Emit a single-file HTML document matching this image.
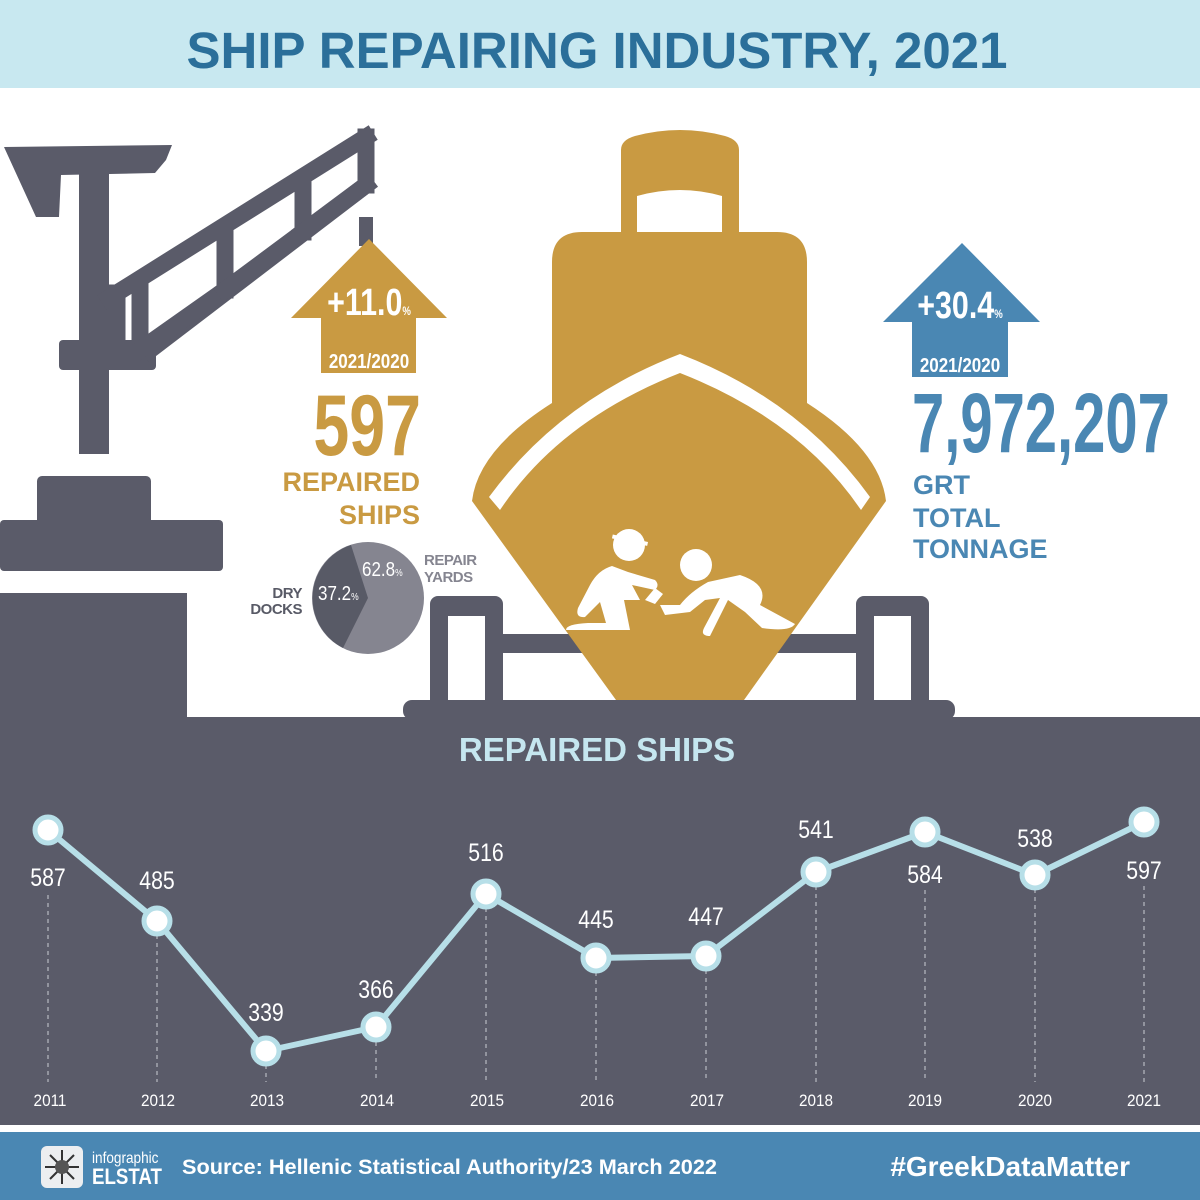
<!DOCTYPE html>
<html><head><meta charset="utf-8"><style>
html,body{margin:0;padding:0;background:#fff}
svg{display:block}
text{font-family:"Liberation Sans",sans-serif}
</style></head><body>
<svg width="1200" height="1200" viewBox="0 0 1200 1200" xmlns="http://www.w3.org/2000/svg">
<rect width="1200" height="1200" fill="#fff"/>
<rect x="0" y="0" width="1200" height="88" fill="#c8e8f0"/>
<text x="597" y="68" text-anchor="middle" font-size="51" font-weight="bold" fill="#2b6f9a">SHIP REPAIRING INDUSTRY, 2021</text>

<g fill="#5a5b69">
<polygon points="4,147 172,145 166,160 155,173 61,175 59,217 36,217"/>
<rect x="79" y="173" width="30" height="281"/>
<rect x="59" y="340" width="97" height="30" rx="4"/>
<rect x="37" y="476" width="114" height="50" rx="5"/>
<rect x="0" y="520" width="223" height="51" rx="4"/>
<rect x="0" y="593" width="187" height="130"/>
<rect x="359" y="217" width="14" height="29"/>
</g>
<g stroke="#5a5b69" stroke-width="17" fill="none" stroke-linecap="square">
<line x1="109" y1="298" x2="366" y2="137"/>
<line x1="150" y1="350" x2="366" y2="185"/>
<line x1="366" y1="137" x2="366" y2="185"/>
<line x1="117" y1="293" x2="117" y2="350"/>
<line x1="225" y1="238" x2="225" y2="290"/>
<line x1="303" y1="182" x2="303" y2="232"/>
<line x1="140" y1="290" x2="140" y2="350"/>
<line x1="140" y1="350" x2="225" y2="290"/>
<line x1="225" y1="290" x2="303" y2="232"/>
<line x1="303" y1="232" x2="366" y2="185"/>
</g>

<polygon points="369,239 447,318 416,318 416,373 321,373 321,318 291,318" fill="#c99a42"/>
<text transform="translate(369,315) scale(0.8,1)" text-anchor="middle" font-size="38" font-weight="bold" fill="#fff">+11.0<tspan font-size="12">%</tspan></text>
<text transform="translate(369,368) scale(0.85,1)" text-anchor="middle" font-size="20" font-weight="bold" fill="#fff">2021/2020</text>
<text transform="translate(421,455) scale(0.75,1)" text-anchor="end" font-size="86" font-weight="bold" fill="#c99a42">597</text>
<text x="420" y="491" text-anchor="end" font-size="27" font-weight="bold" fill="#c99a42">REPAIRED</text>
<text x="420" y="524" text-anchor="end" font-size="27" font-weight="bold" fill="#c99a42">SHIPS</text>

<circle cx="368" cy="598" r="56" fill="#858590"/>
<path d="M368,598 L351,545 A56,56 0 0,0 343,648 Z" fill="#585a66"/>
<text transform="translate(362,576) scale(0.85,1)" font-size="20" fill="#fff">62.8<tspan font-size="10">%</tspan></text>
<text transform="translate(318,600) scale(0.85,1)" font-size="20" fill="#fff">37.2<tspan font-size="10">%</tspan></text>
<text x="302" y="598" text-anchor="end" font-size="15" font-weight="bold" fill="#585a66" letter-spacing="-0.5">DRY</text>
<text x="302" y="614" text-anchor="end" font-size="15" font-weight="bold" fill="#585a66" letter-spacing="-0.5">DOCKS</text>
<text x="424" y="565" font-size="15" font-weight="bold" fill="#858590" letter-spacing="-0.5">REPAIR</text>
<text x="424" y="582" font-size="15" font-weight="bold" fill="#858590" letter-spacing="-0.5">YARDS</text>

<g fill="#5a5b69">
<rect x="430" y="596" width="73" height="115" rx="8"/>
<rect x="856" y="596" width="73" height="115" rx="8"/>
<rect x="500" y="634" width="360" height="19"/>
<rect x="403" y="700" width="552" height="20" rx="9"/>
</g>
<rect x="448" y="616" width="37" height="84" fill="#fff"/>
<rect x="874" y="616" width="37" height="84" fill="#fff"/>

<g fill="#c99a42">
<path d="M621,232 L621,150 Q621,140 635,136 Q680,124 725,136 Q739,140 739,150 L739,232 Z"/>
<path d="M552,403 L552,262 Q552,232 582,232 L777,232 Q807,232 807,262 L807,403 Q880,450 886,501 L744,700 L616,700 L472,501 Q478,450 552,403 Z"/>
</g>
<path d="M637,232 L637,196 Q680,184 722,196 L722,232 Z" fill="#fff"/>
<path d="M680,354 Q560,400 489,497 L500,510 Q560,420 680,373 Q800,420 861,510 L870,497 Q800,400 680,354 Z" fill="#fff"/>

<g fill="#fff">
<circle cx="629" cy="545" r="16"/>
<rect x="612" y="538" width="36" height="4" transform="rotate(12 629 540)"/>
<path d="M612,566 Q598,570 590,585 L578,608 Q575,618 585,617 L600,602 L606,623 L588,623 Q566,624 566,630 L630,630 L624,600 L640,600 L632,585 L655,590 Q660,585 655,580 L628,572 Z"/>
<circle cx="696" cy="565" r="16"/>
<path d="M708,582 Q690,592 680,605 L660,605 L665,615 L690,612 L705,600 L720,598 L704,628 Q700,636 710,636 L728,600 L745,612 L762,628 Q790,632 795,624 L760,605 Q770,585 740,575 Z"/>
<path d="M645,600 l10,-12 l8,6 l-8,10 z"/>
</g>

<polygon points="962,243 1040,322 1008,322 1008,377 912,377 912,322 883,322" fill="#4a87b3"/>
<text transform="translate(960,318) scale(0.8,1)" text-anchor="middle" font-size="38" font-weight="bold" fill="#fff">+30.4<tspan font-size="12">%</tspan></text>
<text transform="translate(960,372) scale(0.85,1)" text-anchor="middle" font-size="20" font-weight="bold" fill="#fff">2021/2020</text>
<text transform="translate(912,452) scale(0.69,1)" font-size="84" font-weight="bold" fill="#4a87b3">7,972,207</text>
<text x="913" y="494" font-size="27" font-weight="bold" fill="#4a87b3">GRT</text>
<text x="913" y="527" font-size="27" font-weight="bold" fill="#4a87b3">TOTAL</text>
<text x="913" y="558" font-size="27" font-weight="bold" fill="#4a87b3">TONNAGE</text>

<rect x="0" y="717" width="1200" height="408" fill="#5a5b69"/>
<text x="597" y="761" text-anchor="middle" font-size="33" font-weight="bold" fill="#c5e6ef">REPAIRED SHIPS</text>

<g stroke="#c9ccd4" stroke-width="1" stroke-dasharray="4,4">
<line x1="48" y1="895" x2="48" y2="1082"/>
<line x1="157" y1="935" x2="157" y2="1082"/>
<line x1="266" y1="1065" x2="266" y2="1082"/>
<line x1="376" y1="1042" x2="376" y2="1082"/>
<line x1="486" y1="908" x2="486" y2="1082"/>
<line x1="596" y1="972" x2="596" y2="1082"/>
<line x1="706" y1="970" x2="706" y2="1082"/>
<line x1="816" y1="886" x2="816" y2="1082"/>
<line x1="925" y1="890" x2="925" y2="1082"/>
<line x1="1035" y1="889" x2="1035" y2="1082"/>
<line x1="1144" y1="886" x2="1144" y2="1082"/>
</g>
<polyline points="48,830 157,921 266,1051 376,1027 486,894 596,958 706,956 816,872 925,832 1035,875 1144,822" fill="none" stroke="#b7dfe8" stroke-width="6" stroke-linejoin="round"/>
<g fill="#fff" stroke="#b7dfe8" stroke-width="5">
<circle cx="48" cy="830" r="13"/><circle cx="157" cy="921" r="13"/><circle cx="266" cy="1051" r="13"/>
<circle cx="376" cy="1027" r="13"/><circle cx="486" cy="894" r="13"/><circle cx="596" cy="958" r="13"/>
<circle cx="706" cy="956" r="13"/><circle cx="816" cy="872" r="13"/><circle cx="925" cy="832" r="13"/>
<circle cx="1035" cy="875" r="13"/><circle cx="1144" cy="822" r="13"/>
</g>
<g fill="#fff" font-size="25" text-anchor="middle">
<text transform="translate(48,886) scale(0.85,1)">587</text>
<text transform="translate(157,889) scale(0.85,1)">485</text>
<text transform="translate(266,1021) scale(0.85,1)">339</text>
<text transform="translate(376,998) scale(0.85,1)">366</text>
<text transform="translate(486,861) scale(0.85,1)">516</text>
<text transform="translate(596,928) scale(0.85,1)">445</text>
<text transform="translate(706,925) scale(0.85,1)">447</text>
<text transform="translate(816,838) scale(0.85,1)">541</text>
<text transform="translate(925,883) scale(0.85,1)">584</text>
<text transform="translate(1035,847) scale(0.85,1)">538</text>
<text transform="translate(1144,879) scale(0.85,1)">597</text>
</g>
<g fill="#fff" font-size="17" text-anchor="middle">
<text transform="translate(50,1106) scale(0.9,1)">2011</text>
<text transform="translate(158,1106) scale(0.9,1)">2012</text>
<text transform="translate(267,1106) scale(0.9,1)">2013</text>
<text transform="translate(377,1106) scale(0.9,1)">2014</text>
<text transform="translate(487,1106) scale(0.9,1)">2015</text>
<text transform="translate(597,1106) scale(0.9,1)">2016</text>
<text transform="translate(707,1106) scale(0.9,1)">2017</text>
<text transform="translate(816,1106) scale(0.9,1)">2018</text>
<text transform="translate(925,1106) scale(0.9,1)">2019</text>
<text transform="translate(1035,1106) scale(0.9,1)">2020</text>
<text transform="translate(1144,1106) scale(0.9,1)">2021</text>
</g>

<rect x="0" y="1132" width="1200" height="68" fill="#4a87b3"/>
<rect x="41" y="1146" width="42" height="42" rx="6" fill="#eceef0"/>
<g stroke="#333" stroke-width="2"><line x1="62" y1="1150" x2="62" y2="1184"/><line x1="45" y1="1167" x2="79" y2="1167"/><line x1="50" y1="1155" x2="74" y2="1179"/><line x1="74" y1="1155" x2="50" y2="1179"/></g>
<circle cx="62" cy="1167" r="7" fill="#555"/>
<text transform="translate(92,1163) scale(0.85,1)" font-size="16" fill="#fff">infographic</text>
<text transform="translate(92,1184) scale(0.85,1)" font-size="22" font-weight="bold" fill="#fff">ELSTAT</text>
<text x="182" y="1174" font-size="21" font-weight="bold" fill="#fff" textLength="535" lengthAdjust="spacingAndGlyphs">Source: Hellenic Statistical Authority/23 March 2022</text>
<text x="1130" y="1176" text-anchor="end" font-size="28" font-weight="bold" fill="#fff">#GreekDataMatter</text>
</svg>
</body></html>
